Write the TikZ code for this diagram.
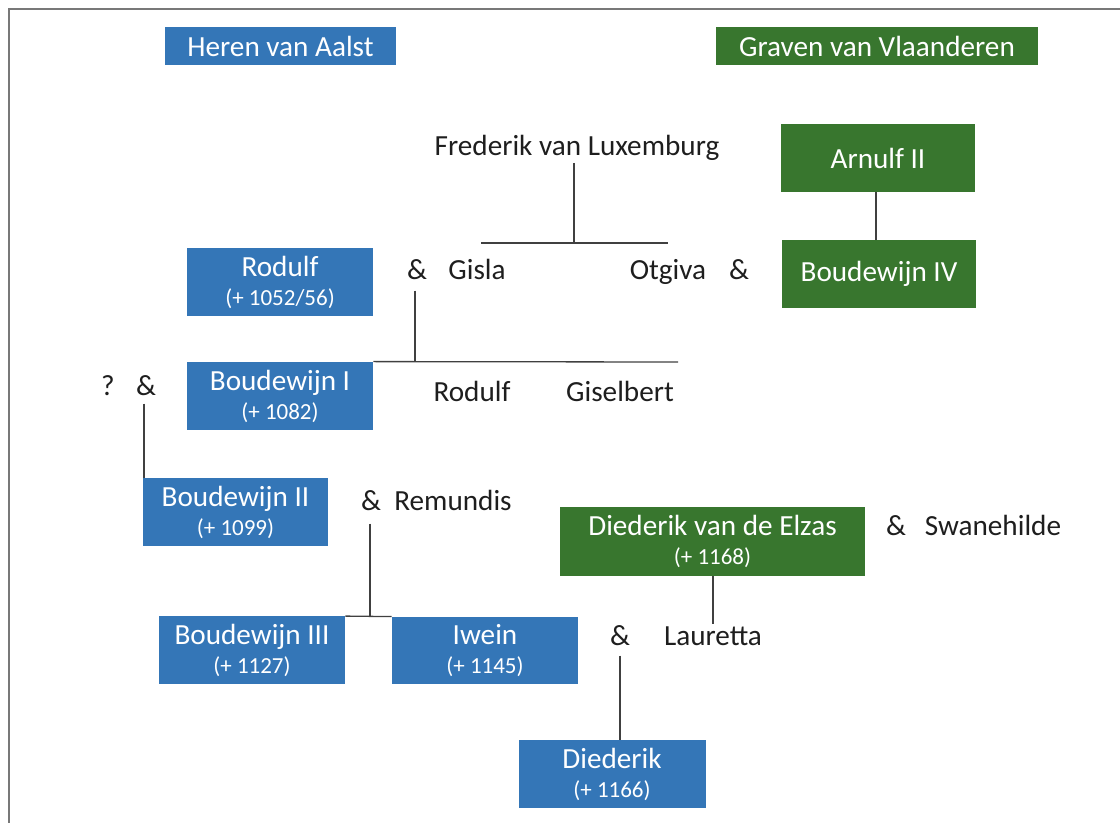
\documentclass[tikz,border=0pt]{standalone}
\usepackage{fontspec}
\setmainfont{Carlito}
\definecolor{boxblue}{RGB}{52,118,183}
\definecolor{boxgreen}{RGB}{56,118,46}
\definecolor{inkgray}{RGB}{30,30,30}
\definecolor{framegray}{RGB}{120,120,120}
\newcommand\mainf{\fontsize{14.6}{14.5}\selectfont}
\newcommand\datef{\fontsize{11.5}{14.5}\selectfont}
\begin{document}
\begin{tikzpicture}[x=0.5pt,y=-0.5pt,
  boxbase/.style={text=white, inner sep=0pt, align=center, font=\mainf},
  bluebox/.style={boxbase, fill=boxblue},
  greenbox/.style={boxbase, fill=boxgreen},
  txt/.style={anchor=base, font=\mainf, text=inkgray, inner sep=1pt},
  conn/.style={draw=inkgray!85, line width=0.65pt},
  frameline/.style={draw=framegray, line width=0.6pt}]
\useasboundingbox (0,0) rectangle (1120,823);
\draw[frameline] (9,823) -- (9,9) -- (1120,9);

% headers
\node[bluebox, minimum width=115.5pt, minimum height=19pt] (heren) at (280.5,46) {Heren van Aalst};
\node[greenbox, minimum width=161pt, minimum height=19pt] (graven) at (877,46) {Graven van Vlaanderen};

% Flanders line
\node[greenbox, minimum width=97pt, minimum height=34pt] (arnulf) at (878,158) {Arnulf II};
\node[greenbox, minimum width=97pt, minimum height=34pt] (b4) at (879,274) {Boudewijn IV};

% Luxemburg
\node[txt] (fred) at (577,155.5) {Frederik van Luxemburg};
\coordinate (j1) at (574,243);
\coordinate (hL) at (481,243);
\coordinate (hR) at (668,243);

% Rodulf row
\node[bluebox, minimum width=93pt, minimum height=34pt] (rodulf) at (280,282) {Rodulf\\{\datef (+ 1052/56)}};
\node[txt] (amp1) at (417,280) {\&};
\node[txt] (gisla) at (477,280) {Gisla};
\node[txt] (otgiva) at (668,280) {Otgiva};
\node[txt] (amp2) at (739,280) {\&};

% Boudewijn I row
\node[bluebox, minimum width=93pt, minimum height=34pt] (b1) at (280,396) {Boudewijn I\\{\datef (+ 1082)}};
\node[txt] (rodulf2) at (472,402) {Rodulf};
\node[txt] (gisel) at (620,402) {Giselbert};
\node[txt] (qm) at (108,396) {?};
\node[txt] (amp3) at (146,396) {\&};
\coordinate (j2e) at (678,362);

% Boudewijn II row
\node[bluebox, minimum width=92.5pt, minimum height=34pt] (b2) at (235.5,512) {Boudewijn II\\{\datef (+ 1099)}};
\node[txt] (amp4) at (371,511) {\&};
\node[txt] (remundis) at (453,511) {Remundis};

% Boudewijn III and Iwein
\node[bluebox, minimum width=93pt, minimum height=33.5pt] (b3) at (252,650) {Boudewijn III\\{\datef (+ 1127)}};
\node[bluebox, minimum width=93pt, minimum height=33.5pt] (iwein) at (485,650.5) {Iwein\\{\datef (+ 1145)}};

% Diederik van de Elzas
\node[greenbox, minimum width=152.5pt, minimum height=34.5pt] (dve) at (712.5,541.5) {Diederik van de Elzas\\{\datef (+ 1168)}};
\node[txt] (amp5) at (896,536) {\&};
\node[txt] (swane) at (993,536) {Swanehilde};
\node[txt] (amp6) at (620,645.5) {\&};
\node[txt] (lauretta) at (713,645.5) {Lauretta};

% Diederik
\node[bluebox, minimum width=93.5pt, minimum height=34pt] (died) at (612,774) {Diederik\\{\datef (+ 1166)}};

% connectors
\draw[conn] (fred.south -| j1) -- (j1);
\draw[conn] (hL) -- (hR);
\draw[conn] ([xshift=-1pt]arnulf.south) -- ([xshift=-1pt]arnulf.south |- b4.north);
\draw[conn] ([xshift=-1pt,yshift=-4pt]amp1.south) -- ([xshift=-1pt]amp1.south |- b1.north);
\draw[conn] (b1.north east) -- (j2e);
\draw[conn] ([xshift=-1pt,yshift=-2.5pt]amp3.south) -- ([xshift=-1pt]amp3.south |- b2.north);
\draw[conn] ([xshift=-0.5pt,yshift=-5pt]amp4.south) -- ([xshift=-0.5pt]amp4.south |- b3.north);
\draw[conn] (b3.north east) -- (iwein.north west);
\draw[conn] (dve.south -| lauretta.north) -- (lauretta.north);
\draw[conn] ([yshift=-3.75pt]amp6.south) -- (amp6.south |- died.north);
\end{tikzpicture}
\end{document}
